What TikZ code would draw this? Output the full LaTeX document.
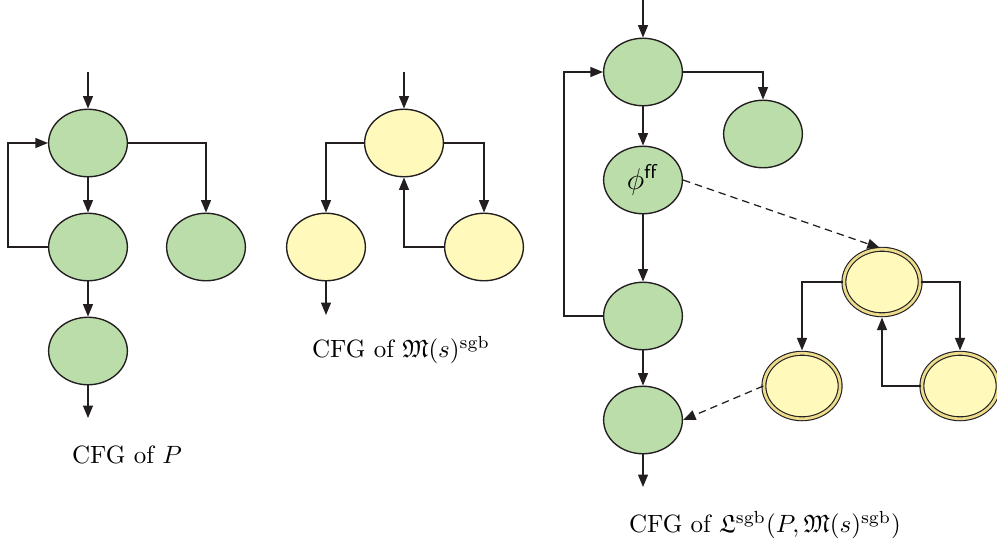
\documentclass[tikz,border=0pt]{standalone}
\usepackage{amssymb}
\usetikzlibrary{arrows.meta,shapes.geometric}
\definecolor{gfill}{RGB}{186,221,170}
\definecolor{yfill}{RGB}{255,249,187}
\definecolor{ring}{RGB}{236,220,140}
\definecolor{ln}{RGB}{35,31,32}
\begin{document}
\begin{tikzpicture}[x=0.4pt,y=-0.4pt,
  gnode/.style={ellipse, draw=ln, line width=0.55pt, fill=gfill, minimum width=31.5pt, minimum height=27pt, inner sep=0pt},
  ynode/.style={gnode, fill=yfill},
  ydnode/.style={ellipse, draw=ln, line width=0.45pt, double=ring, double distance=1.1pt, fill=yfill, minimum width=30.5pt, minimum height=26.2pt, inner sep=0pt},
  conn/.style={draw=ln, line width=0.5pt, -{Triangle[length=5pt,width=4pt]}},
  dconn/.style={conn, dash pattern=on 3pt off 2pt},
  todbl/.style={shorten >=0.9pt},
  lab/.style={inner sep=0pt}
]
\useasboundingbox (0,0) rectangle (997,542);
% left graph
\node[gnode] (a1) at (88,143) {};
\node[gnode] (a2) at (88,247) {};
\node[gnode] (a3) at (206,247) {};
\node[gnode] (a4) at (88,351) {};
\coordinate (a0) at (88,72);
\coordinate (a5) at (88,418);
\coordinate (al) at (8,247);
\draw[conn] (a0) -- (a1);
\draw[conn] (a1) -- (a2);
\draw[conn] (a2) -- (a4);
\draw[conn] (a4) -- (a5);
\draw[conn] (a1.east) -| (a3.north);
\draw[conn] (a2.west) -- (al) |- (a1.west);
\node[lab] (la) at (127,455) {CFG of $P$};
% middle graph
\node[ynode] (b1) at (404,143) {};
\node[ynode] (b2) at (326,247) {};
\node[ynode] (b3) at (484,247) {};
\coordinate (b0) at (404,72);
\coordinate (b4) at (326,315);
\draw[conn] (b0) -- (b1);
\draw[conn] (b1.west) -| (b2.north);
\draw[conn] (b1.east) -| (b3.north);
\draw[conn] (b3.west) -| (b1.south);
\draw[conn] (b2) -- (b4);
\node[lab] (lb) at (401,350) {CFG of $\mathfrak{M}(s)^{\mathrm{sgb}}$};
% right graph
\node[gnode] (c1) at (643,72) {};
\node[gnode] (c2) at (763,134) {};
\node[gnode, font=\large] (c3) at (643,180) {$\phi^{\mathsf{ff}}$};
\node[gnode] (c4) at (643,316) {};
\node[gnode] (c5) at (643,420) {};
\coordinate (c0) at (643,0);
\coordinate (c6) at (643,487);
\coordinate (cl) at (564,316);
\draw[conn] (c0) -- (c1);
\draw[conn] (c1) -- (c3);
\draw[conn] (c3) -- (c4);
\draw[conn] (c4) -- (c5);
\draw[conn] (c5) -- (c6);
\draw[conn] (c1.east) -| (c2.north);
\draw[conn] (c4.west) -- (cl) |- (c1.west);
\node[ydnode] (d1) at (882,282) {};
\node[ydnode] (d2) at (802,386) {};
\node[ydnode] (d3) at (960,386) {};
\draw[conn,todbl] (d1.west) -| (d2.north);
\draw[conn,todbl] (d1.east) -| (d3.north);
\draw[conn,todbl] (d3.west) -| (d1.south);
\draw[dconn,todbl] (c3.east) -- (d1.north);
\draw[dconn] (d2.west) -- (c5.east);
\node[lab] (lc) at (765,525) {CFG of $\mathfrak{L}^{\mathrm{sgb}}(P,\mathfrak{M}(s)^{\mathrm{sgb}})$};
\end{tikzpicture}
\end{document}
